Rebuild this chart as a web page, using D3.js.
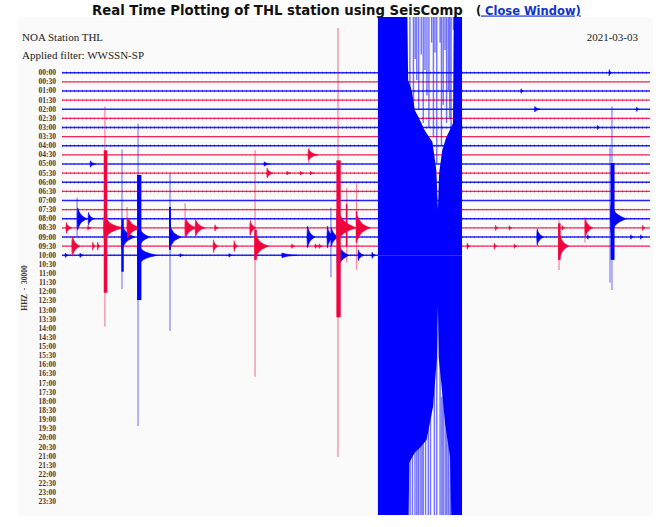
<!DOCTYPE html>
<html><head><meta charset="utf-8">
<script src="https://cdn.jsdelivr.net/npm/d3@7"></script>
<style>body{margin:0;background:#fff;} svg{display:block}</style>
</head><body><svg id="c" width="660" height="527"></svg>
<script>
// ---------------- DATA ----------------
const titleText = "Real Time Plotting of THL station using SeisComp";
const stationText = "NOA Station THL";
const filterText = "Applied filter: WWSSN-SP";
const dateText = "2021-03-03";
const channelText = "HHZ  -  30000";
const timeLabels = ["00:00","00:30","01:00","01:30","02:00","02:30","03:00","03:30",
  "04:00","04:30","05:00","05:30","06:00","06:30","07:00","07:30","08:00","08:30",
  "09:00","09:30","10:00","10:30","11:00","11:30","12:00","12:30","13:00","13:30",
  "14:00","14:30","15:00","15:30","16:00","16:30","17:00","17:30","18:00","18:30",
  "19:00","19:30","20:00","20:30","21:00","21:30","22:00","22:30","23:00","23:30"];
// minute (within the half-hour row) at which each recorded row's data ends
const traceEnd = [30,30,30,30,30,30,30,30,30,30,30,30,30,30,30,30,30,30,30,30,16.12];
// background noise amplitude per row (in row units)
const rowNoise = [0.14,0.04,0.14,0.14,0.05,0.14,0.16,0.04,0.14,0.07,0.05,0.14,0.14,0.14,0.05,0.1,0.1,0.05,0.1,0.06,0.1];
// thin (light) spikes: [row, minute, up, down]
const spikes = [
  [17,2.19,13.3,10.8],[18,3.06,9.6,5.7],[17,3.32,2.3,1.3],[20,3.88,14.4,18.7],
  [18,5.51,7.0,10.3],[17,6.28,2.7,1.1],[19,9.85,10.5,14.3],[9,12.6,0.8,0.9],
  [17,14.08,21.9,25.1],[17,14.53,4.4,3.8],[17,15.03,4.9,4.6],[18,13.72,3.2,4.4],
  [16,28.06,12.3,7.8],[16,27.96,7.8,7.0],[19,25.36,2.8,2.6],[17,26.68,1.2,1.6],
  [16,0.77,2.3,2.0],[19,0.51,0.7,0.8],[17,9.59,0.5,0.8],[11,10.46,0.6,0.5]
];
// dense high-amplitude cores: [row, minute, up, down, duration]
const cores = [
  [17,2.13,8.5,7.1,0.18],[18,3.03,2.0,3.8,0.12],[20,3.83,8.8,4.9,0.22],
  [18,5.46,3.3,1.4,0.1],[17,14.0,7.4,9.8,0.22],[16,27.99,6.1,4.5,0.2],
  [19,25.31,2.5,1.5,0.13],[19,9.81,1.8,1.5,0.13],[17,14.48,2.6,2.0,0.08],[17,14.99,1.8,1.6,0.08]
];
// wave trains: [row, onset minute, up, down, duration]
const bursts = [
  [17,2.12,1.2,1.2,1.0],[18,3.02,1.3,1.3,0.7],[17,3.32,1.1,1.1,0.7],[20,3.85,1.0,1.0,1.0],
  [18,3.88,1.2,1.2,0.6],[18,5.48,1.2,1.2,0.6],[17,6.28,1.0,1.0,0.6],[17,6.79,0.9,0.9,0.5],
  [16,0.77,1.2,1.2,0.5],[16,1.33,0.7,0.7,0.3],[17,0.2,0.6,0.6,0.3],[17,1.3,0.25,0.25,0.2],
  [19,0.51,1.1,1.1,0.4],[19,1.55,0.45,0.45,0.15],[19,1.8,0.45,0.45,0.15],
  [20,0.15,0.25,0.25,0.2],[20,0.9,0.25,0.25,0.2],[17,7.78,0.35,0.35,0.2],[19,7.71,0.7,0.7,0.25],
  [19,8.76,0.6,0.6,0.2],[17,9.59,0.8,0.8,0.3],[19,9.85,1.2,1.2,0.7],[9,12.55,0.6,0.6,0.5],
  [11,10.46,0.5,0.5,0.3],[11,11.46,0.2,0.2,0.2],[11,12.14,0.2,0.2,0.2],[11,12.65,0.2,0.2,0.2],
  [18,12.5,1.2,1.2,0.4],[18,13.52,1.2,1.2,0.35],[18,13.72,1.0,1.0,0.4],[17,14.0,2.0,1.5,1.0],
  [17,15.03,1.3,1.3,0.7],[20,14.03,1.5,1.5,0.6],[20,15.1,0.6,0.6,0.3],[20,15.8,0.35,0.35,0.2],
  [20,11.2,0.25,0.25,0.8],[19,11.7,0.25,0.25,0.2],[19,12.9,0.25,0.25,0.2],[19,13.1,0.25,0.25,0.2],
  [10,1.43,0.35,0.35,0.3],[18,24.22,0.9,0.9,0.35],[19,25.36,1.3,1.3,0.5],[17,26.68,1.0,1.0,0.4],
  [16,27.98,1.5,1.5,0.8],[17,22.1,0.3,0.3,0.15],[17,22.8,0.25,0.25,0.15],[17,25.5,0.25,0.25,0.15],
  [17,29.6,0.3,0.3,0.15],[18,26.8,0.25,0.25,0.15],[18,29.0,0.25,0.25,0.15],[18,29.5,0.25,0.25,0.15],
  [19,20.66,0.35,0.35,0.15],[19,22.04,0.35,0.35,0.15],[19,23.06,0.25,0.25,0.15],[0,27.9,0.35,0.35,0.15],
  [2,23.4,0.25,0.25,0.15],[4,24.1,0.3,0.3,0.3],[4,29.3,0.25,0.25,0.15],[6,27.3,0.25,0.25,0.15],
  [10,10.3,0.25,0.25,0.3],[20,6.0,0.2,0.2,0.2],[20,8.5,0.2,0.2,0.2]
];
// 10:16 main shock on the 10:00 row: upper and lower envelope [minute, rows]
const shockRow = 20;
const shockTop = [[16.12,30],[17.6,30],[17.66,19.2],[17.85,18.0],[18.0,15.9],[18.2,15.1],[18.5,13.7],
  [18.9,12.4],[19.1,9.3],[19.18,5.0],[19.24,9.0],[19.4,11.5],[19.6,12.9],[19.85,14.0],[19.95,14.5],[20.0,30],[20.41,30]];
const shockBottom = [[16.12,30],[17.68,30],[17.72,22.7],[18.0,21.6],[18.3,21.0],[18.6,20.2],[18.93,16.6],
  [19.13,11.2],[19.18,5.7],[19.22,11.2],[19.35,14.0],[19.55,18.5],[19.8,22.1],[19.88,30],[20.41,30]];
// clipped swings reaching into the quieter gaps: [minute, rows]
const shockTopLines = [[17.75,17.0],[17.93,15.9],[18.02,21.5],[18.1,19.2],[18.2,16.0],[18.33,22.0],[18.43,14.5],
  [18.52,20.3],[18.62,17.5],[18.72,14.0],[18.86,23.3],[18.95,13.0],[19.03,22.2],[19.12,10.0],
  [19.29,23.3],[19.36,12.0],[19.45,16.5],[19.54,22.5],[19.62,14.5],[19.71,18.1],[19.78,15.0],[19.85,13.7],[19.97,24.7]];
const shockBottomLines = [[17.76,18.8],[17.88,21.0],[18.01,16.1],[18.1,12.6],[18.18,17.5],[18.27,11.8],[18.36,15.0],
  [18.43,12.0],[18.55,16.0],[18.69,10.6],[18.8,13.5],[19.0,12.5],[19.12,8.2],[19.29,8.9],[19.38,15.5],
  [19.45,11.8],[19.55,14.0],[19.63,16.5],[19.71,13.7],[19.8,11.8],[19.85,17.0]];

// ---------------- DRAW ----------------
const svg = d3.select("#c");
const W = 660, H = 527;
const x = d3.scaleLinear().domain([0,30]).range([62,650]);
const y = d3.scaleLinear().domain([0,47]).range([72.7,72.7+47*9.13]);
const BLUE = "#0000ff", RED = "#f0043e";
const col = r => r % 2 === 0 ? BLUE : RED;

svg.append("rect").attr("width",W).attr("height",H).attr("fill","#ffffff");
svg.append("rect").attr("x",18).attr("y",17).attr("width",635).attr("height",499).attr("fill","#fafafa");

svg.append("defs").append("clipPath").attr("id","plot")
  .append("rect").attr("x",18).attr("y",17).attr("width",635).attr("height",498);
const g = svg.append("g").attr("clip-path","url(#plot)");

// time labels
svg.append("g").selectAll("text").data(timeLabels).join("text")
  .attr("x",56).attr("y",(d,i)=>y(i)).attr("text-anchor","end").attr("dy","0.33em")
  .attr("font-family","Liberation Serif, serif").attr("font-size",7.5).attr("font-weight","bold")
  .attr("fill","#3a3a3a").text(d=>d);

// baselines
const rows = d3.range(traceEnd.length);
g.append("g").selectAll("line").data(rows).join("line")
  .attr("x1",x(0)).attr("x2",r=>x(traceEnd[r])).attr("y1",r=>y(r)).attr("y2",r=>y(r))
  .attr("stroke",col).attr("stroke-width",1.4).attr("stroke-opacity",0.85);
// noise
g.append("g").selectAll("line").data(rows).join("line")
  .attr("x1",x(0)).attr("x2",r=>x(traceEnd[r])).attr("y1",r=>y(r)).attr("y2",r=>y(r))
  .attr("stroke",col).attr("stroke-width",r=>(y(rowNoise[r])-y(0))*2)
  .attr("stroke-dasharray","1 3").attr("stroke-opacity",0.35);

// thin spikes
g.append("g").selectAll("line").data(spikes).join("line")
  .attr("x1",d=>x(d[1])).attr("x2",d=>x(d[1]))
  .attr("y1",d=>y(d[0]-d[2])).attr("y2",d=>y(d[0]+d[3]))
  .attr("stroke",d=>col(d[0])).attr("stroke-width",1.3).attr("stroke-opacity",0.45);

// bursts
const burstArea = d3.area().x(p=>x(p[0])).y0(p=>p[2]).y1(p=>p[1]).curve(d3.curveMonotoneX);
g.append("g").selectAll("path").data(bursts).join("path")
  .attr("d",d=>{
    const [r,t,u,dn,dur]=d;
    const f=[0,1,0.85,0.5,0.25,0.1,0];
    const ts=[t,t+0.03,t+dur*0.12,t+dur*0.3,t+dur*0.55,t+dur*0.8,t+dur];
    return burstArea(ts.map((tt,i)=>[tt,y(r-u*f[i]),y(r+dn*f[i])]));
  })
  .attr("fill",d=>col(d[0])).attr("stroke",d=>col(d[0])).attr("stroke-width",0.6);

// cores
g.append("g").selectAll("rect").data(cores).join("rect")
  .attr("x",d=>x(d[1])).attr("width",d=>x(d[1]+d[4])-x(d[1]))
  .attr("y",d=>y(d[0]-d[2])).attr("height",d=>y(d[0]+d[3])-y(d[0]-d[2]))
  .attr("fill",d=>col(d[0]));

// main shock
const shock = g.append("g");
shock.append("path").datum(shockTop)
  .attr("d",d3.area().x(p=>x(p[0])).y0(y(shockRow)).y1(p=>y(shockRow-p[1])))
  .attr("fill",BLUE);
shock.append("path").datum(shockBottom)
  .attr("d",d3.area().x(p=>x(p[0])).y0(y(shockRow)).y1(p=>y(shockRow+p[1])))
  .attr("fill",BLUE);
shock.append("g").selectAll("line").data(shockTopLines).join("line")
  .attr("x1",d=>x(d[0])).attr("x2",d=>x(d[0])).attr("y1",y(shockRow-30)).attr("y2",d=>y(shockRow-d[1]))
  .attr("stroke",BLUE).attr("stroke-opacity",0.55).attr("stroke-width",1.4);
shock.append("g").selectAll("line").data(shockBottomLines).join("line")
  .attr("x1",d=>x(d[0])).attr("x2",d=>x(d[0])).attr("y1",y(shockRow+30)).attr("y2",d=>y(shockRow+d[1]))
  .attr("stroke",BLUE).attr("stroke-opacity",0.55).attr("stroke-width",1.4);

// texts
const title = svg.append("text").attr("x",92).attr("y",14.5)
  .attr("font-family","DejaVu Sans, Verdana, sans-serif").attr("font-weight","bold")
  .attr("font-size",13).attr("fill","#111").text(titleText);
const tl = title.node().getComputedTextLength();
title.attr("font-size",13*371/tl);
svg.append("text").attr("x",476).attr("y",14.5)
  .attr("font-family","DejaVu Sans, Verdana, sans-serif").attr("font-weight","bold")
  .attr("font-size",11.5).attr("fill","#111").text("(");
svg.append("text").attr("x",481).attr("y",14.5).style("white-space","pre")
  .attr("font-family","DejaVu Sans, Verdana, sans-serif").attr("font-weight","bold")
  .attr("font-size",11.5).attr("fill","#1133cc").attr("text-decoration","underline")
  .text(" Close Window)");

const serif = "Liberation Serif, serif";
svg.append("text").attr("x",22).attr("y",41).attr("font-family",serif).attr("font-size",11)
  .attr("fill","#222").text(stationText);
svg.append("text").attr("x",22).attr("y",59).attr("font-family",serif).attr("font-size",11)
  .attr("fill","#222").text(filterText);
svg.append("text").attr("x",638).attr("y",41).attr("text-anchor","end").attr("font-family",serif).attr("font-size",11)
  .attr("fill","#222").text(dateText);
svg.append("text").attr("transform","translate(27,288) rotate(-90)").attr("text-anchor","middle")
  .style("white-space","pre").attr("font-family",serif).attr("font-size",7.5).attr("font-weight","bold")
  .attr("fill","#333").text(channelText);
</script></body></html>
